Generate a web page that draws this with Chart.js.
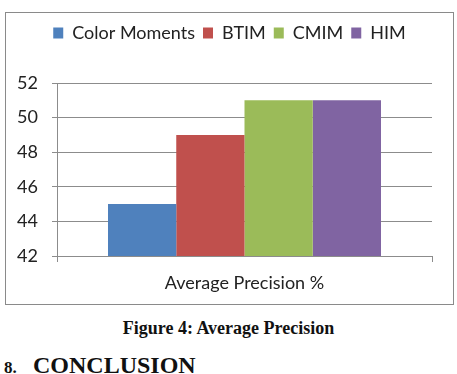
<!DOCTYPE html>
<html lang="en">
  <head>
    <meta charset="UTF-8" />
    <title>Average Precision</title>
    <style>
      * {
        margin: 0;
        padding: 0;
        box-sizing: border-box;
      }
      body {
        width: 457px;
        height: 374px;
        background: #fff;
        position: relative;
        overflow: hidden;
      }
      .chartBox {
        position: absolute;
        left: 5px;
        top: 12px;
        width: 449px;
        height: 293px;
        border: 1px solid #8a8a8a;
      }
      .caption {
        position: absolute;
        left: 0;
        width: 457px;
        top: 318px;
        text-align: center;
        font: bold 18px "Liberation Serif", serif;
        color: #111;
      }
      .heading {
        position: absolute;
        left: 4px;
        top: 352px;
        font: bold 24px "Liberation Serif", serif;
        color: #111;
      }
      .heading span {
        font-size: 17px;
        display: inline-block;
        width: 29px;
      }
    </style>
  </head>
  <body>
    <div class="chartBox">
      <canvas id="myChart" width="447" height="291"></canvas>
    </div>
    <div class="caption">Figure 4: Average Precision</div>
    <div class="heading"><span>8.</span>CONCLUSION</div>

    <script src="https://cdn.jsdelivr.net/npm/chart.js"></script>
    <script>
      const categories = ["Average Precision %"];
      const seriesNames = ["Color Moments", "BTIM", "CMIM", "HIM"];
      const seriesValues = [[45], [49], [51], [51]];
      const seriesColors = ["#4F81BD", "#C0504D", "#9BBB59", "#8064A2"];

      const gridColor = "#8c8c8c";
      const font = { family: "Lato, 'Open Sans', sans-serif", size: 18 };

      // push the plot down below the legend
      const legendMargin = {
        id: "legendMargin",
        beforeInit(chart) {
          const fit = chart.legend.fit;
          chart.legend.fit = function () {
            fit.bind(chart.legend)();
            this.height += 31;
          };
        },
      };

      const ctx = document.getElementById("myChart");
      const myChart = new Chart(ctx, {
        type: "bar",
        data: {
          labels: categories,
          datasets: seriesNames.map((name, i) => ({
            label: name,
            data: seriesValues[i],
            backgroundColor: seriesColors[i],
            borderWidth: 0,
            barPercentage: 1,
            categoryPercentage: 0.728,
          })),
        },
        options: {
          responsive: false,
          animation: false,
          layout: { padding: { top: 3 } },
          plugins: {
            tooltip: { enabled: false },
            legend: {
              position: "top",
              labels: {
                boxWidth: 10,
                boxHeight: 11,
                padding: 8,
                color: "#222",
                font: font,
              },
            },
          },
          scales: {
            x: {
              grid: {
                offset: true,
                drawOnChartArea: false,
                tickLength: 6,
                color: gridColor,
              },
              border: { color: gridColor },
              ticks: { color: "#222", font: font, padding: 10 },
              afterFit(scale) {
                scale.height = 48;
              },
            },
            y: {
              min: 42,
              max: 52,
              ticks: { stepSize: 2, color: "#222", font: font, padding: 14 },
              grid: { color: gridColor, tickLength: 5 },
              border: { color: gridColor },
              afterFit(scale) {
                scale.width = 51;
              },
            },
            // empty right axis, only keeps a margin so the legend stays centred
            yRight: {
              position: "right",
              grid: { display: false },
              border: { display: false },
              ticks: { display: false },
              afterFit(scale) {
                scale.width = 21;
              },
            },
          },
        },
        plugins: [legendMargin],
      });
    </script>
  </body>
</html>
